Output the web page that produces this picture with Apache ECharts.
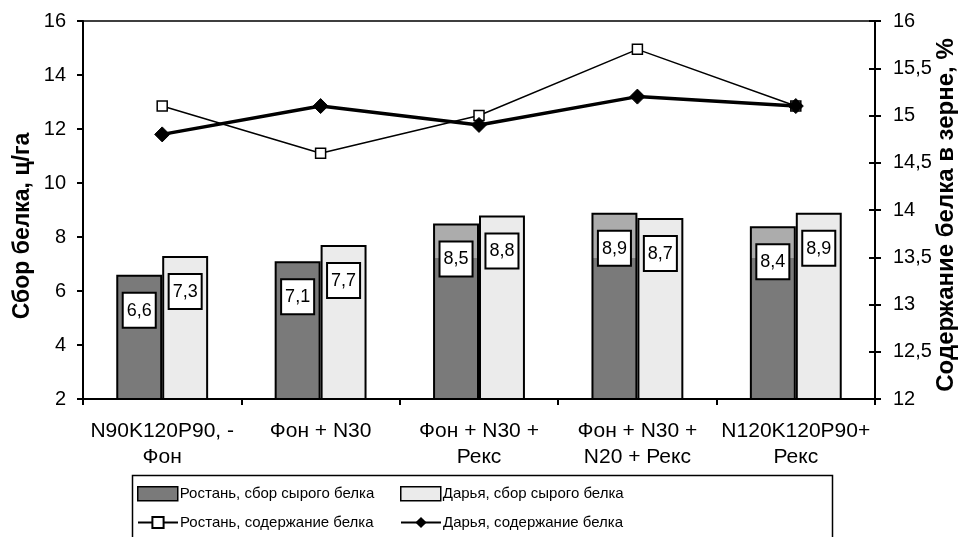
<!DOCTYPE html>
<html><head><meta charset="utf-8">
<script src="https://cdn.jsdelivr.net/npm/echarts@6/dist/echarts.min.js"></script>
<style>html,body{margin:0;padding:0;background:#fff}#c{width:962px;height:537px}</style>
</head><body><div id="c"></div>
<script>
const categories = ['N90K120P90, -\nФон', 'Фон + N30', 'Фон + N30 +\nРекс', 'Фон + N30 +\nN20 + Рекс', 'N120K120P90+\nРекс'];
const rostanYield = [6.6, 7.1, 8.5, 8.9, 8.4];
const daryaYield = [7.3, 7.7, 8.8, 8.7, 8.9];
const rostanContent = [15.1, 14.6, 15.0, 15.7, 15.1];
const daryaContent = [14.8, 15.1, 14.9, 15.2, 15.1];
const leftTicks = {min: 2, max: 16, interval: 2};
const rightTicks = {min: 12, max: 16, interval: 0.5};
const seriesNames = ['Ростань, сбор сырого белка', 'Дарья, сбор сырого белка', 'Ростань, содержание белка', 'Дарья, содержание белка'];

const FONT = 'Liberation Sans, Arial, sans-serif';
const comma = v => String(v).replace('.', ',');
const barLabel = {
  show: true, position: 'insideTop', distance: 19,
  formatter: p => comma(p.value),
  color: '#000', fontFamily: FONT, fontSize: 18,
  backgroundColor: '#fff', borderColor: '#000', borderWidth: 2,
  padding: [8, 3, 7, 3]
};
const rostanFill = {
  type: 'linear', x: 0, y: 0, x2: 0, y2: 537, global: true,
  colorStops: [
    {offset: 0, color: '#acacac'}, {offset: 258 / 537, color: '#acacac'},
    {offset: 258 / 537 + 0.0001, color: '#7a7a7a'}, {offset: 1, color: '#7a7a7a'}
  ]
};
const legendPos = [[137, 486], [400, 486], [137, 515], [400, 515]];
const legendItemStyles = [
  {icon: 'rect', itemStyle: {color: '#7a7a7a', borderColor: '#000', borderWidth: 1.5}},
  {icon: 'rect', itemStyle: {color: '#ebebeb', borderColor: '#000', borderWidth: 1.5}},
  {}, {}
];
const legends = seriesNames.map((n, i) => ({
  left: legendPos[i][0], top: legendPos[i][1], padding: 0, itemWidth: 40, itemHeight: 14, itemGap: 0,
  textStyle: {fontSize: 15, color: '#000', padding: [0, 0, 0, -3]},
  data: [Object.assign({name: n}, legendItemStyles[i])]
}));
const chart = echarts.init(document.getElementById('c'));
chart.setOption({
  animation: false,
  textStyle: {fontFamily: FONT, color: '#000'},
  grid: {left: 83, right: 87, top: 21, bottom: 138, containLabel: false, outerBoundsMode: 'none',
    show: true, borderColor: '#000', borderWidth: 1.5, backgroundColor: 'transparent'},
  xAxis: {
    type: 'category', data: categories,
    axisLine: {lineStyle: {color: '#000', width: 2}},
    axisTick: {show: true, length: 6, lineStyle: {color: '#000', width: 2}},
    axisLabel: {color: '#000', fontSize: 21, lineHeight: 26, margin: 19, interval: 0}
  },
  yAxis: [{
    type: 'value', min: leftTicks.min, max: leftTicks.max, interval: leftTicks.interval,
    name: 'Сбор белка, ц/га', nameLocation: 'middle', nameGap: 49, nameMoveOverlap: false,
    nameTextStyle: {fontSize: 23, fontWeight: 'bold', color: '#000', padding: [0, 32, 0, 0]},
    axisLine: {show: true, lineStyle: {color: '#000', width: 2}},
    axisTick: {show: true, length: 6, lineStyle: {color: '#000', width: 2}},
    axisLabel: {color: '#000', fontSize: 20, margin: 17},
    splitLine: {show: false}
  }, {
    type: 'value', min: rightTicks.min, max: rightTicks.max, interval: rightTicks.interval,
    name: 'Содержание белка в зерне, %', nameLocation: 'middle', nameGap: 59, nameMoveOverlap: false,
    nameTextStyle: {fontSize: 24, fontWeight: 'bold', color: '#000', padding: [0, 10, 0, 0]},
    position: 'right',
    axisLine: {show: true, lineStyle: {color: '#000', width: 2}},
    axisTick: {show: true, length: 6, lineStyle: {color: '#000', width: 2}},
    axisLabel: {color: '#000', fontSize: 20, margin: 18, formatter: v => comma(v)},
    splitLine: {show: false}
  }, {
    type: 'value', min: rightTicks.min, max: rightTicks.max, interval: rightTicks.interval,
    position: 'right',
    axisLine: {show: false},
    axisTick: {show: true, inside: true, length: 6, lineStyle: {color: '#000', width: 2}},
    axisLabel: {show: false},
    splitLine: {show: false}
  }],
  legend: legends,
  graphic: [{type: 'rect', left: 130, top: 473, shape: {width: 700, height: 70}, style: {fill: 'none', stroke: '#000', lineWidth: 1.5}, silent: true}],
  series: [{
    name: seriesNames[0], type: 'bar', data: rostanYield, yAxisIndex: 0,
    barGap: '0%', barCategoryGap: '42%',
    itemStyle: {color: rostanFill, borderColor: '#000', borderWidth: 2},
    label: barLabel
  }, {
    name: seriesNames[1], type: 'bar', data: daryaYield, yAxisIndex: 0,
    itemStyle: {color: '#ebebeb', borderColor: '#000', borderWidth: 2},
    label: barLabel
  }, {
    name: seriesNames[2], type: 'line', data: rostanContent, yAxisIndex: 1,
    symbol: 'rect', symbolSize: 10,
    lineStyle: {color: '#000', width: 1.5},
    itemStyle: {color: '#fff', borderColor: '#000', borderWidth: 1.5}
  }, {
    name: seriesNames[3], type: 'line', data: daryaContent, yAxisIndex: 1,
    symbol: 'diamond', symbolSize: 15,
    lineStyle: {color: '#000', width: 3.5},
    itemStyle: {color: '#000', borderColor: '#000'}
  }]
});
</script></body></html>
